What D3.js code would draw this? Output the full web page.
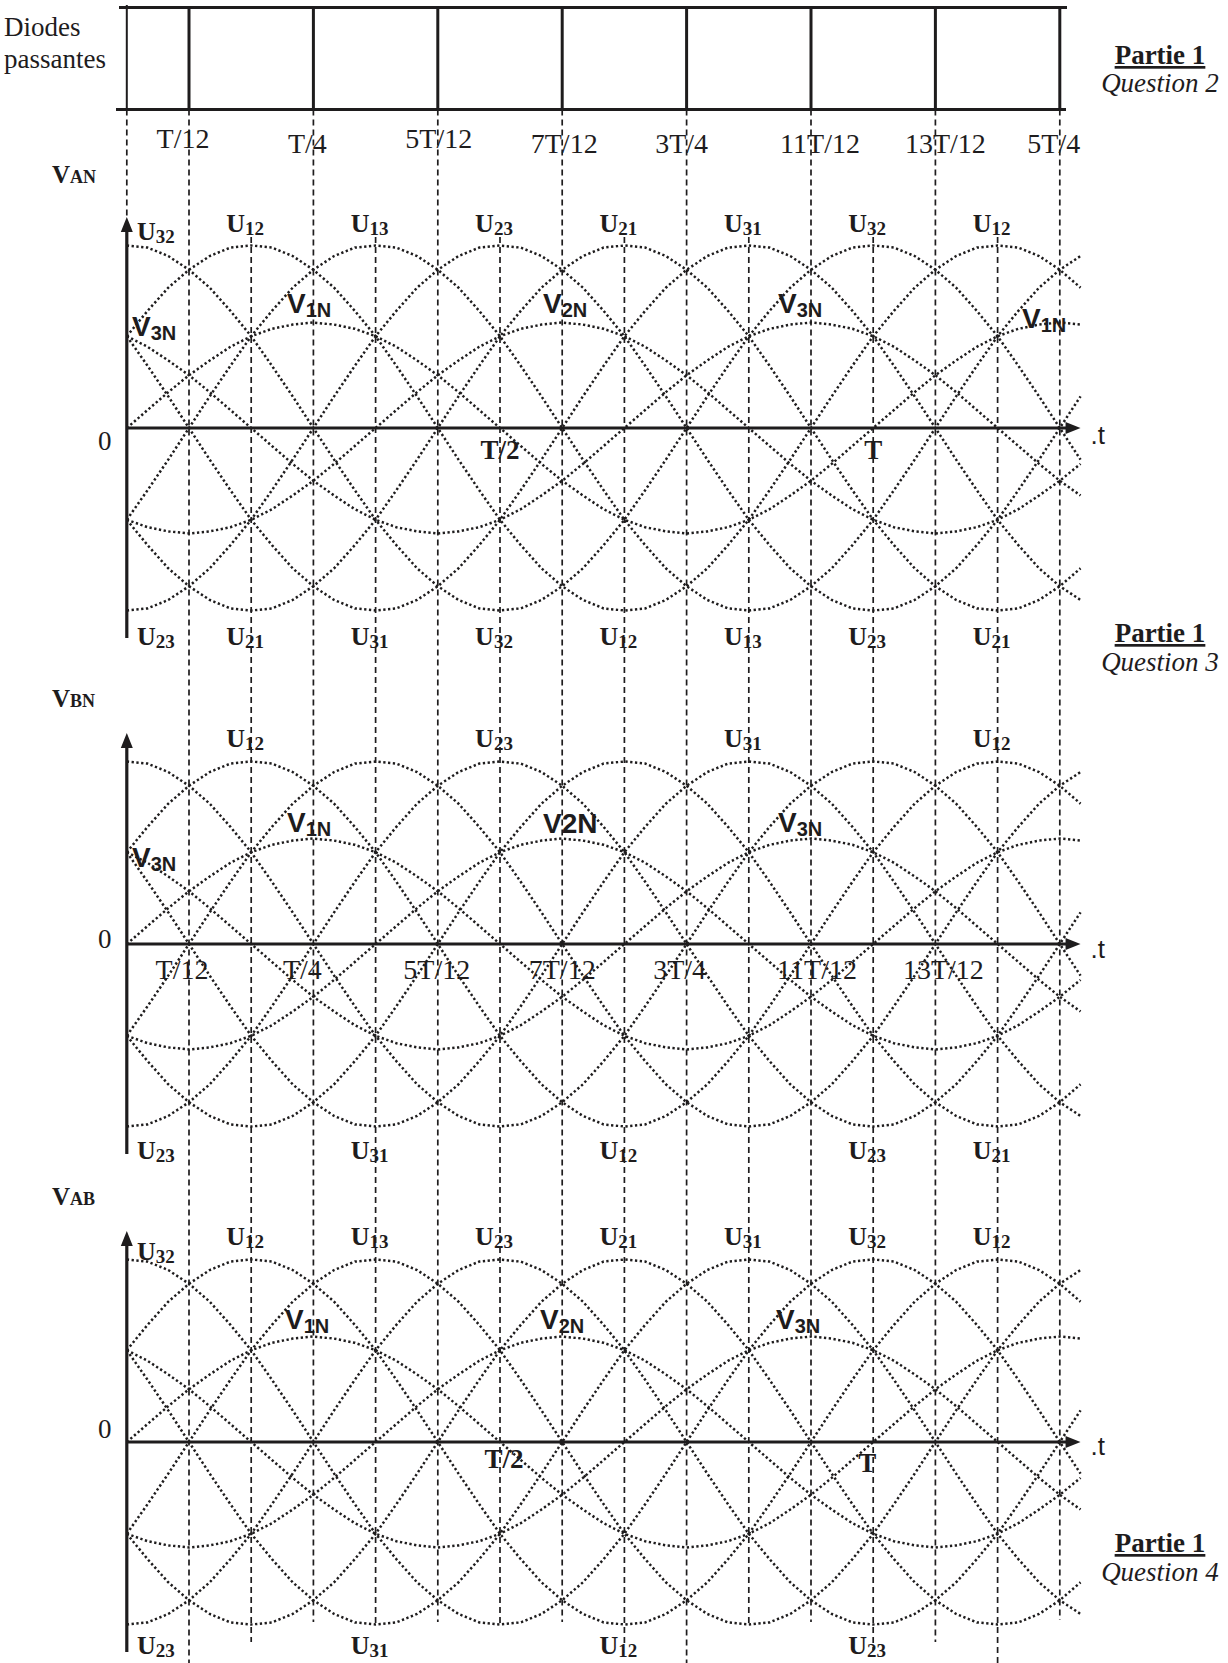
<!DOCTYPE html>
<html>
<head>
<meta charset="utf-8">
<script src="https://cdn.jsdelivr.net/npm/d3@7"></script>
<style>
  body { margin: 0; background: #fff; }
  svg { display: block; }
</style>
</head>
<body>
<svg id="chart" width="1228" height="1663"></svg>
<script>
// ---------------------------------------------------------------
// Data: waveforms sampled every 10 degrees of the period T
// (0 .. 460 degrees), in units of the phase-voltage amplitude.
// ---------------------------------------------------------------
const sampleDeg = d3.range(0, 461, 10);

const v1n = [0, .17, .34, .5, .64, .77, .87, .94, .98, 1, .98, .94, .87, .77, .64, .5, .34, .17,
  0, -.17, -.34, -.5, -.64, -.77, -.87, -.94, -.98, -1, -.98, -.94, -.87, -.77, -.64, -.5, -.34, -.17,
  0, .17, .34, .5, .64, .77, .87, .94, .98, 1, .98];
const v2n = [-.87, -.94, -.98, -1, -.98, -.94, -.87, -.77, -.64, -.5, -.34, -.17,
  0, .17, .34, .5, .64, .77, .87, .94, .98, 1, .98, .94, .87, .77, .64, .5, .34, .17,
  0, -.17, -.34, -.5, -.64, -.77, -.87, -.94, -.98, -1, -.98, -.94, -.87, -.77, -.64, -.5, -.34];
const v3n = [.87, .77, .64, .5, .34, .17,
  0, -.17, -.34, -.5, -.64, -.77, -.87, -.94, -.98, -1, -.98, -.94, -.87, -.77, -.64, -.5, -.34, -.17,
  0, .17, .34, .5, .64, .77, .87, .94, .98, 1, .98, .94, .87, .77, .64, .5, .34, .17,
  0, -.17, -.34, -.5, -.64];
const u12 = [.87, 1.11, 1.33, 1.5, 1.63, 1.71, 1.73, 1.71, 1.63, 1.5, 1.33, 1.11, .87, .59, .3,
  0, -.3, -.59, -.87, -1.11, -1.33, -1.5, -1.63, -1.71, -1.73, -1.71, -1.63, -1.5, -1.33, -1.11, -.87, -.59, -.3,
  0, .3, .59, .87, 1.11, 1.33, 1.5, 1.63, 1.71, 1.73, 1.71, 1.63, 1.5, 1.33];
const u13 = [-.87, -.59, -.3,
  0, .3, .59, .87, 1.11, 1.33, 1.5, 1.63, 1.71, 1.73, 1.71, 1.63, 1.5, 1.33, 1.11, .87, .59, .3,
  0, -.3, -.59, -.87, -1.11, -1.33, -1.5, -1.63, -1.71, -1.73, -1.71, -1.63, -1.5, -1.33, -1.11, -.87, -.59, -.3,
  0, .3, .59, .87, 1.11, 1.33, 1.5, 1.63];
const u23 = [-1.73, -1.71, -1.63, -1.5, -1.33, -1.11, -.87, -.59, -.3,
  0, .3, .59, .87, 1.11, 1.33, 1.5, 1.63, 1.71, 1.73, 1.71, 1.63, 1.5, 1.33, 1.11, .87, .59, .3,
  0, -.3, -.59, -.87, -1.11, -1.33, -1.5, -1.63, -1.71, -1.73, -1.71, -1.63, -1.5, -1.33, -1.11, -.87, -.59, -.3,
  0, .3];
const u21 = [-.87, -1.11, -1.33, -1.5, -1.63, -1.71, -1.73, -1.71, -1.63, -1.5, -1.33, -1.11, -.87, -.59, -.3,
  0, .3, .59, .87, 1.11, 1.33, 1.5, 1.63, 1.71, 1.73, 1.71, 1.63, 1.5, 1.33, 1.11, .87, .59, .3,
  0, -.3, -.59, -.87, -1.11, -1.33, -1.5, -1.63, -1.71, -1.73, -1.71, -1.63, -1.5, -1.33];
const u31 = [.87, .59, .3,
  0, -.3, -.59, -.87, -1.11, -1.33, -1.5, -1.63, -1.71, -1.73, -1.71, -1.63, -1.5, -1.33, -1.11, -.87, -.59, -.3,
  0, .3, .59, .87, 1.11, 1.33, 1.5, 1.63, 1.71, 1.73, 1.71, 1.63, 1.5, 1.33, 1.11, .87, .59, .3,
  0, -.3, -.59, -.87, -1.11, -1.33, -1.5, -1.63];
const u32 = [1.73, 1.71, 1.63, 1.5, 1.33, 1.11, .87, .59, .3,
  0, -.3, -.59, -.87, -1.11, -1.33, -1.5, -1.63, -1.71, -1.73, -1.71, -1.63, -1.5, -1.33, -1.11, -.87, -.59, -.3,
  0, .3, .59, .87, 1.11, 1.33, 1.5, 1.63, 1.71, 1.73, 1.71, 1.63, 1.5, 1.33, 1.11, .87, .59, .3,
  0, -.3];
const waveforms = [v1n, v2n, v3n, u12, u13, u23, u21, u31, u32];

// Instants marked on the time axis, as fractions of the period T
const conductionEdges = [0, 1/12, 3/12, 5/12, 7/12, 9/12, 11/12, 13/12, 15/12];
const gridInstants = d3.range(1, 16).map(k => k / 12);
const topTickLabels = ["T/12", "T/4", "5T/12", "7T/12", "3T/4", "11T/12", "13T/12", "5T/4"];
const topTickAt = [1/12, 3/12, 5/12, 7/12, 9/12, 11/12, 13/12, 15/12];
const midTickLabels = ["T/12", "T/4", "5T/12", "7T/12", "3T/4", "11T/12", "13T/12"];
const midTickAt = [1/12, 3/12, 5/12, 7/12, 9/12, 11/12, 13/12];

// Panel titles and peak labels (line voltages at their crests)
const panelTitles = [["V", "AN"], ["V", "BN"], ["V", "AB"]];
const crestTop1 = ["U32", "U12", "U13", "U23", "U21", "U31", "U32", "U12"];
const crestTop1At = [0, 2/12, 4/12, 6/12, 8/12, 10/12, 12/12, 14/12];
const crestBot1 = ["U23", "U21", "U31", "U32", "U12", "U13", "U23", "U21"];
const crestBot1At = [0, 2/12, 4/12, 6/12, 8/12, 10/12, 12/12, 14/12];
const crestTop2 = ["U12", "U23", "U31", "U12"];
const crestTop2At = [2/12, 6/12, 10/12, 14/12];
const crestBot2 = ["U23", "U31", "U12", "U23", "U21"];
const crestBot2At = [0, 4/12, 8/12, 12/12, 14/12];
const crestTop3 = ["U32", "U12", "U13", "U23", "U21", "U31", "U32", "U12"];
const crestTop3At = [0, 2/12, 4/12, 6/12, 8/12, 10/12, 12/12, 14/12];
const crestBot3 = ["U23", "U31", "U12", "U23"];
const crestBot3At = [0, 4/12, 8/12, 12/12];

// ---------------------------------------------------------------
// Layout
// ---------------------------------------------------------------
const svg = d3.select("#chart");
const W = 1228, H = 1663;
const INK = "#1e1c1d";
const SERIF = "'Liberation Serif', 'Times New Roman', Times, serif";
const SANS = "'Liberation Sans', Arial, Helvetica, sans-serif";

const x = d3.scaleLinear().domain([0, 1]).range([126.8, 873.2]);   // time, in periods
const axisY = [428, 944, 1442];
const unitPx = 105.5;                                               // px per phase amplitude
const yScales = axisY.map(y0 => d3.scaleLinear().domain([0, 1]).range([y0, y0 - unitPx]));

const xEnd = x(460 / 360);
const boxTop = 7.5, boxBottom = 109.5;
// lower end of each dashed guide (T/12 .. 15T/12)
const guideBottom = [1663, 1642, 1622, 1625, 1622, 1624, 1622, 1645, 1663, 1624, 1622, 1650, 1642, 1663, 1620];

// ---------------------------------------------------------------
// Conducting-diodes strip
// ---------------------------------------------------------------
const strip = svg.append("g");
strip.append("line").attr("x1", 119).attr("x2", 1067).attr("y1", boxTop).attr("y2", boxTop)
  .attr("stroke", INK).attr("stroke-width", 3);
strip.append("line").attr("x1", 116).attr("x2", 1066).attr("y1", boxBottom).attr("y2", boxBottom)
  .attr("stroke", INK).attr("stroke-width", 3);
strip.selectAll("line.edge").data(conductionEdges).join("line").attr("class", "edge")
  .attr("x1", d => x(d)).attr("x2", d => x(d))
  .attr("y1", (d, i) => i === 0 ? 5 : boxTop).attr("y2", boxBottom)
  .attr("stroke", INK).attr("stroke-width", (d, i) => i === 0 ? 2 : 3);

strip.append("text").attr("x", 4).attr("y", 36).attr("font-family", SERIF).attr("font-size", 27)
  .attr("fill", INK).text("Diodes");
strip.append("text").attr("x", 4).attr("y", 68).attr("font-family", SERIF).attr("font-size", 27)
  .attr("fill", INK).text("passantes");

const topNudge = [[-6, 148], [-6, 153], [1, 148], [2, 153], [-5, 153], [9, 153], [10, 153], [-6, 153]];
svg.append("g").selectAll("text").data(topTickLabels).join("text")
  .attr("x", (d, i) => x(topTickAt[i]) + topNudge[i][0])
  .attr("y", (d, i) => topNudge[i][1])
  .attr("text-anchor", "middle").attr("font-family", SERIF).attr("font-size", 28)
  .attr("fill", INK).text(d => d);

// ---------------------------------------------------------------
// Dashed guide lines at every T/12
// ---------------------------------------------------------------
const guides = svg.append("g").attr("stroke", INK).attr("stroke-width", 1.7)
  .attr("stroke-dasharray", "6 4");
guides.append("line").attr("x1", x(0)).attr("x2", x(0)).attr("y1", boxBottom).attr("y2", axisY[0] - 211);
guides.selectAll("line.g").data(gridInstants).join("line").attr("class", "g")
  .attr("x1", d => x(d)).attr("x2", d => x(d))
  .attr("y1", (d, i) => (i % 2 === 0) ? boxBottom : 237)
  .attr("y2", (d, i) => guideBottom[i]);

// ---------------------------------------------------------------
// Panels
// ---------------------------------------------------------------
function subLabel(g, main, sub, px, py, opts) {
  const t = g.append("text").attr("x", px).attr("y", py)
    .attr("text-anchor", opts.anchor || "start")
    .attr("font-family", opts.family).attr("font-weight", "bold").attr("fill", INK);
  t.append("tspan").attr("font-size", opts.big).text(main);
  t.append("tspan").attr("font-size", opts.small).attr("dy", opts.dy).text(sub);
  return t;
}
function uLabel(g, name, px, py, anchor) {
  return subLabel(g, "U", name.slice(1), px, py,
    { family: SERIF, big: 26, small: 19, dy: 3, anchor: anchor || "middle" });
}
function vLabel(g, name, px, py) {
  return subLabel(g, "V", name.slice(1), px, py, { family: SANS, big: 28, small: 20, dy: 4 });
}

const line = d3.line();

axisY.forEach((y0, p) => {
  const y = yScales[p];
  const g = svg.append("g");

  // waveforms
  g.append("g").selectAll("path").data(waveforms).join("path")
    .attr("d", vals => line(vals.map((v, i) => [x(sampleDeg[i] / 360), y(v)])))
    .attr("fill", "none").attr("stroke", INK).attr("stroke-width", 2.5)
    .attr("stroke-dasharray", "2.3 2.5");

  // axes
  g.append("line").attr("x1", x(0)).attr("x2", x(0)).attr("y1", y0 - 198).attr("y2", y0 + 210)
    .attr("stroke", INK).attr("stroke-width", 3.2);
  g.append("path").attr("d", `M${x(0)},${y0 - 211} l-6,15 l12,0 z`).attr("fill", INK);
  g.append("line").attr("x1", x(0)).attr("x2", xEnd - 12).attr("y1", y0).attr("y2", y0)
    .attr("stroke", INK).attr("stroke-width", 3.2);
  g.append("path").attr("d", `M${xEnd},${y0} l-15,-6 l0,12 z`).attr("fill", INK);

  g.append("text").attr("x", xEnd + 10).attr("y", y0 + [16, 14, 13][p])
    .attr("font-family", SANS).attr("font-size", 26).attr("fill", INK).text(".t");
  g.append("text").attr("x", 98).attr("y", y0 + [22, 4, -4][p])
    .attr("font-family", SERIF).attr("font-size", 27).attr("fill", INK).text("0");

  // panel title
  subLabel(g, panelTitles[p][0], panelTitles[p][1], 52, y0 + [-245, -237, -237][p],
    { family: SERIF, big: 25, small: 18, dy: 0 });
});

// crest labels
function crestRow(p, names, at, dyBase, firstDy) {
  const g = svg.append("g");
  names.forEach((n, i) => {
    if (at[i] === 0) uLabel(g, n, 137, axisY[p] + firstDy, "start");
    else uLabel(g, n, x(at[i]) - 6, axisY[p] + dyBase, "middle");
  });
}
crestRow(0, crestTop1, crestTop1At, -196, -188);
crestRow(0, crestBot1, crestBot1At, 217, 217);
crestRow(1, crestTop2, crestTop2At, -197, -197);
crestRow(1, crestBot2, crestBot2At, 215, 215);
crestRow(2, crestTop3, crestTop3At, -197, -182);
crestRow(2, crestBot3, crestBot3At, 212, 212);

// phase-voltage labels
const vg = svg.append("g");
vLabel(vg, "V3N", 132, axisY[0] - 92);
vLabel(vg, "V1N", 287, axisY[0] - 115);
vLabel(vg, "V2N", 543, axisY[0] - 115);
vLabel(vg, "V3N", 778, axisY[0] - 115);
vLabel(vg, "V1N", 1022, axisY[0] - 100);

vLabel(vg, "V3N", 132, axisY[1] - 77);
vLabel(vg, "V1N", 287, axisY[1] - 112);
vg.append("text").attr("x", 543).attr("y", axisY[1] - 111).attr("font-family", SANS)
  .attr("font-weight", "bold").attr("font-size", 28).attr("fill", INK).text("V2N");
vLabel(vg, "V3N", 778, axisY[1] - 112);

vLabel(vg, "V1N", 285, axisY[2] - 113);
vLabel(vg, "V2N", 540, axisY[2] - 113);
vLabel(vg, "V3N", 776, axisY[2] - 113);

// period markers
const pm = svg.append("g").attr("font-family", SERIF).attr("font-weight", "bold")
  .attr("font-size", 27).attr("fill", INK).attr("text-anchor", "middle");
pm.append("text").attr("x", x(0.5)).attr("y", axisY[0] + 31).text("T/2");
pm.append("text").attr("x", x(1)).attr("y", axisY[0] + 31).text("T");
pm.append("text").attr("x", x(0.5) + 4).attr("y", axisY[2] + 26).text("T/2");
pm.append("text").attr("x", x(1) - 6).attr("y", axisY[2] + 30).text("T");

// time ticks under the middle axis
const midNudge = [-7, -11, -1, 0, -7, 6, 8];
svg.append("g").selectAll("text").data(midTickLabels).join("text")
  .attr("x", (d, i) => x(midTickAt[i]) + midNudge[i])
  .attr("y", axisY[1] + 35)
  .attr("text-anchor", "middle").attr("font-family", SERIF).attr("font-size", 28)
  .attr("fill", INK).text(d => d);

// ---------------------------------------------------------------
// Question references in the right margin
// ---------------------------------------------------------------
[[64, 92, "Question 2"], [642, 671, "Question 3"], [1552, 1581, "Question 4"]].forEach(([y1, y2, q]) => {
  const g = svg.append("g").attr("text-anchor", "middle").attr("fill", INK);
  g.append("text").attr("x", 1160).attr("y", y1).attr("font-family", SERIF).attr("font-weight", "bold")
    .attr("font-size", 27).attr("text-decoration", "underline").text("Partie 1");
  g.append("text").attr("x", 1160).attr("y", y2).attr("font-family", SERIF).attr("font-style", "italic")
    .attr("font-size", 27).text(q);
});
</script>
</body>
</html>
